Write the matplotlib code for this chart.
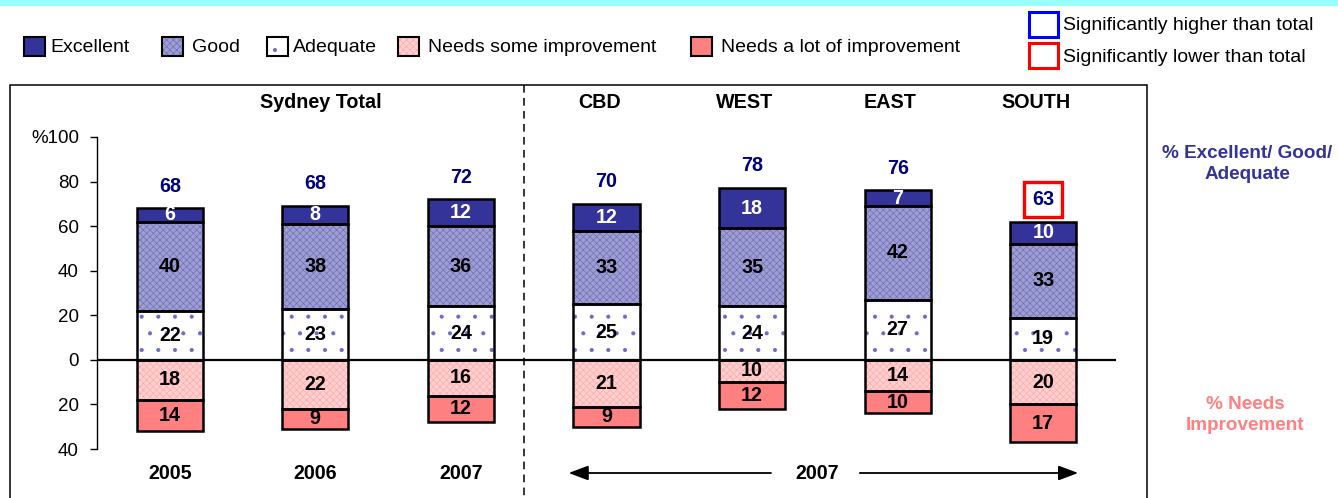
import matplotlib
matplotlib.use("Agg")
import matplotlib.pyplot as plt
import matplotlib.transforms as mtransforms
from matplotlib.patches import Rectangle
from matplotlib.lines import Line2D
from matplotlib.ticker import FuncFormatter
import numpy as np

plt.rcParams['font.family'] = ['Liberation Sans', 'DejaVu Sans']
plt.rcParams['hatch.linewidth'] = 0.5

# Ratings per column: Sydney total by year, then the four regions for 2007
years = ['2005', '2006', '2007']
regions = ['CBD', 'WEST', 'EAST', 'SOUTH']
excellent = [6, 8, 12, 12, 18, 7, 10]
good = [40, 38, 36, 33, 35, 42, 33]
adequate = [22, 23, 24, 25, 24, 27, 19]
needs_some = [18, 22, 16, 21, 10, 14, 20]
needs_lot = [14, 9, 12, 9, 12, 10, 17]
positive_total = [68, 68, 72, 70, 78, 76, 63]
significance = ['', '', '', '', '', '', 'lower']
y_ticks = [-40, -20, 0, 20, 40, 60, 80, 100]

NAVY = '#000080'
EXC = '#333399'
GOOD_FACE, GOOD_HATCH = '#9e9ed3', '#7070ba'
ADQ_DOT = '#6a6ad0'
SOME_FACE, SOME_HATCH = '#ffd0d0', '#ffaaaa'
LOT = '#ff8080'
BAR_W = 0.455
FS = 14.2

W, H = 1338, 498
fig = plt.figure(figsize=(W / 100, H / 100), dpi=100)


def fx(px):
    return px / W


def fy(py):
    return 1 - py / H


# cyan strip along the top edge
fig.patches.append(Rectangle((0, fy(6)), 1, 6 / H, transform=fig.transFigure,
                             color='#99ffff', lw=0, zorder=0))
# chart frame (bottom edge runs off the canvas)
fig.patches.append(Rectangle((fx(10), fy(530)), fx(1147) - fx(10), (530 - 85) / H,
                             transform=fig.transFigure, fill=False,
                             edgecolor='black', lw=1.1, zorder=1))
# dashed divider between the total and the regions
fig.lines.append(Line2D([fx(524), fx(524)], [fy(85), 0], transform=fig.transFigure,
                        color='black', lw=1.1, linestyle=(0, (5, 3.5))))

ax = fig.add_axes([fx(97), fy(449), fx(1116) - fx(97), (449 - 137) / H])
ax.patch.set_alpha(0)
x = np.arange(len(excellent))


def segment(xi, bottom, height, face, hatch, hatch_col, label, text_col):
    ax.bar(xi, height, BAR_W, bottom=bottom, color=face, hatch=hatch,
           edgecolor=hatch_col, linewidth=0, zorder=2)
    ax.bar(xi, height, BAR_W, bottom=bottom, fill=False, edgecolor='black',
           linewidth=1.8, zorder=3)
    ax.text(xi, bottom + height / 2, str(label), ha='center', va='center',
            fontsize=FS, fontweight='bold', color=text_col, zorder=5)


for i in x:
    a, g, e = adequate[i], good[i], excellent[i]
    segment(i, 0, a, 'white', '.', ADQ_DOT, a, 'black')
    segment(i, a, g, GOOD_FACE, 'xxxxx', GOOD_HATCH, g, 'black')
    segment(i, a + g, e, EXC, None, EXC, e, 'white')
    s, l = needs_some[i], needs_lot[i]
    segment(i, -s, s, SOME_FACE, 'xxxxx', SOME_HATCH, s, 'black')
    segment(i, -s - l, l, LOT, None, LOT, l, 'black')

    top = a + g + e
    box = None
    if significance[i] == 'lower':
        box = dict(boxstyle='square,pad=0.4', fc='white', ec='red', lw=2.4)
    elif significance[i] == 'higher':
        box = dict(boxstyle='square,pad=0.4', fc='white', ec='blue', lw=2.4)
    ax.text(i, top + 10, str(positive_total[i]), ha='center', va='center',
            fontsize=FS, fontweight='bold', color=NAVY, bbox=box, zorder=5)

ax.axhline(0, color='black', lw=1.6, zorder=4)
ax.set_xlim(-0.5, 6.5)
ax.set_ylim(-40, 100)
ax.set_xticks([])
ax.set_yticks(y_ticks)
ax.yaxis.set_major_formatter(FuncFormatter(
    lambda v, _: ('%' if v == 100 else '') + f'{abs(v):.0f}'))
ax.tick_params(axis='y', length=5, width=1, pad=8, labelsize=13.5)
for side in ('top', 'right', 'bottom'):
    ax.spines[side].set_visible(False)
ax.spines['left'].set_linewidth(1)

# headings above and year labels below, x in data units
xt = mtransforms.blended_transform_factory(ax.transData, fig.transFigure)
ax.text(1.04, fy(103), 'Sydney Total', transform=xt, ha='center', va='center',
        fontsize=FS, fontweight='bold')
for j, name in enumerate(regions):
    ax.text(3 + j - 0.05, fy(103), name, transform=xt, ha='center', va='center',
            fontsize=FS, fontweight='bold')
for j, yr in enumerate(years):
    ax.text(j, fy(473), yr, transform=xt, ha='center', va='center',
            fontsize=FS, fontweight='bold')
ax.text(4.45, fy(473), years[-1], transform=xt, ha='center', va='center',
        fontsize=FS, fontweight='bold')
arrow = dict(arrowstyle='-|>,head_length=1.2,head_width=0.45', color='black',
             lw=1.3, shrinkA=0, shrinkB=0)
ax.annotate('', xy=(2.74, fy(473)), xytext=(4.13, fy(473)), xycoords=xt,
            textcoords=xt, arrowprops=arrow)
ax.annotate('', xy=(6.24, fy(473)), xytext=(4.74, fy(473)), xycoords=xt,
            textcoords=xt, arrowprops=arrow)

# side captions
fig.text(fx(1247), fy(164), '% Excellent/ Good/\nAdequate', ha='center', va='center',
         fontsize=13.6, fontweight='bold', color=EXC, linespacing=1.35)
fig.text(fx(1245), fy(415), '% Needs\nImprovement', ha='center', va='center',
         fontsize=13.6, fontweight='bold', color=LOT, linespacing=1.35)

# legend row
legend_items = [
    ('Excellent', EXC, None, EXC, 24, 50),
    ('Good', GOOD_FACE, 'xxxxx', GOOD_HATCH, 162, 192),
    ('Adequate', 'white', '.', ADQ_DOT, 267, 293),
    ('Needs some improvement', SOME_FACE, 'xxxxx', SOME_HATCH, 398, 428),
    ('Needs a lot of improvement', LOT, None, LOT, 691, 721),
]
for name, face, hatch, hcol, sx, tx in legend_items:
    for kw in (dict(facecolor=face, hatch=hatch, edgecolor=hcol, lw=0),
               dict(fill=False, edgecolor='black', lw=1.5)):
        fig.patches.append(Rectangle((fx(sx), fy(56)), 21 / W, 19 / H,
                                     transform=fig.transFigure, **kw))
    fig.text(fx(tx), fy(47), name, ha='left', va='center', fontsize=14)

for name, col, top, ty in [('Significantly higher than total', 'blue', 12, 26),
                           ('Significantly lower than total', 'red', 43, 58)]:
    fig.patches.append(Rectangle((fx(1029), fy(top + 25)), 29 / W, 25 / H,
                                 transform=fig.transFigure, fill=False,
                                 edgecolor=col, lw=2.2))
    fig.text(fx(1063), fy(ty), name, ha='left', va='center', fontsize=14)

fig.savefig('out.png', dpi=100)
